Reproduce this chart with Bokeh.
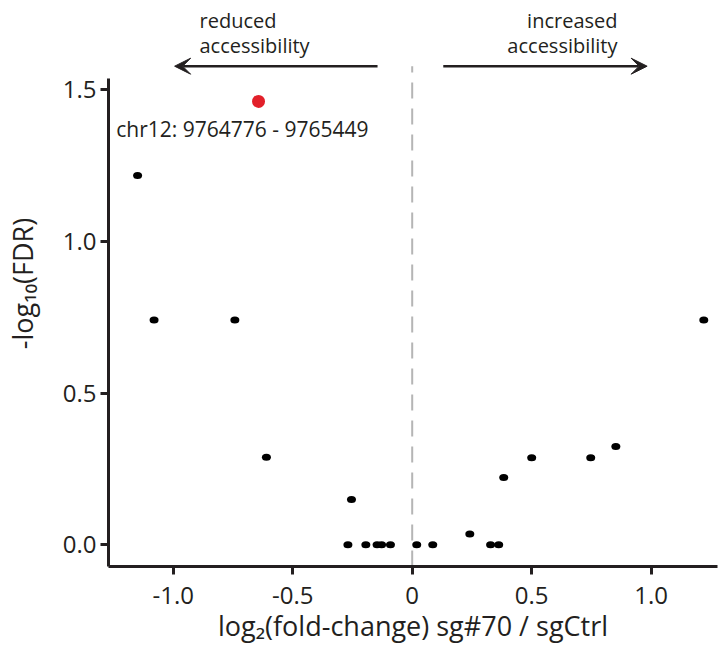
from bokeh.plotting import figure
from bokeh.models import ColumnDataSource, Arrow, VeeHead, FixedTicker, Range1d
from bokeh.core.properties import value
from bokeh.embed import file_html
from bokeh.resources import INLINE

# ---- data ----
lfc = [-1.149, -1.080, -0.742, -0.610, -0.254, -0.269, -0.194, -0.147, -0.128, -0.091,
       0.019, 0.086, 0.241, 0.328, 0.362, 0.383, 0.500, 0.747, 0.852, 1.220]
neglog_fdr = [1.218, 0.741, 0.741, 0.289, 0.149, 0.0, 0.0, 0.0, 0.0, 0.0,
              0.0, 0.0, 0.036, 0.0, 0.0, 0.222, 0.287, 0.287, 0.324, 0.741]
hit_lfc = [-0.643]
hit_fdr = [1.462]
hit_label = "chr12: 9764776 - 9765449"

x_ticks = [-1.0, -0.5, 0.0, 0.5, 1.0]
x_tick_labels = ["-1.0", "-0.5", "0", "0.5", "1.0"]
y_ticks = [0.0, 0.5, 1.0, 1.5]
y_tick_labels = ["0.0", "0.5", "1.0", "1.5"]

FONT = "Open Sans"
INK = "#231f20"

p = figure(width=725, height=656, output_backend="svg", toolbar_location=None,
           x_range=Range1d(-1.2707, 1.2774), y_range=Range1d(-0.0715, 1.7946),
           min_border_left=108, min_border_right=8, min_border_top=0, min_border_bottom=90)
p.outline_line_color = None
p.xgrid.visible = False
p.ygrid.visible = False
p.background_fill_color = "white"
p.border_fill_color = "white"

for ax in (p.xaxis[0], p.yaxis[0]):
    ax.axis_line_width = 3
    ax.axis_line_color = INK
    ax.major_tick_line_width = 3
    ax.major_tick_line_color = INK
    ax.major_tick_out = 8
    ax.major_tick_in = 0
    ax.minor_tick_line_color = None
    ax.major_label_text_font = FONT
    ax.major_label_text_font_size = "24px"
    ax.major_label_text_color = INK
    ax.axis_label_text_font = FONT
    ax.axis_label_text_font_size = "27px"
    ax.axis_label_text_font_style = "normal"
    ax.axis_label_text_color = INK

p.xaxis.ticker = FixedTicker(ticks=x_ticks)
p.xaxis.major_label_overrides = {t: l for t, l in zip(x_ticks, x_tick_labels)}
p.yaxis.ticker = FixedTicker(ticks=y_ticks)
p.yaxis.major_label_overrides = {t: l for t, l in zip(y_ticks, y_tick_labels)}
p.yaxis.bounds = (-0.0715, 1.538)
p.xaxis.axis_label = "log\u2082(fold-change) sg#70 / sgCtrl"
p.yaxis.axis_label = "-log\u2081\u2080(FDR)"
p.yaxis.major_label_standoff = 4
p.yaxis.axis_label_standoff = 19
p.xaxis.major_label_standoff = 12
p.xaxis.axis_label_standoff = 0

# dashed zero line
p.segment(x0=[0], y0=[-0.0715], x1=[0], y1=[1.578], line_color="#b5b5b5",
          line_width=2, line_dash="16 10")

# points
src = ColumnDataSource(dict(x=lfc, y=neglog_fdr))
p.ellipse(x="x", y="y", width=9, height=7, width_units="screen", height_units="screen",
          source=src, fill_color="black", line_color=None)
p.scatter(x=hit_lfc, y=hit_fdr, size=13, fill_color="#e2202a", line_color=None)

# hit label
p.text(x=[-1.238], y=[1.370], text=[hit_label], text_font=value(FONT),
       text_font_size="21px", text_color=INK, text_align="left", text_baseline="alphabetic")

# direction annotations
p.text(x=[-0.890, -0.890], y=[1.729, 1.647], text=["reduced", "accessibility"],
       text_font=value(FONT), text_font_size="20px", text_color=INK,
       text_align="left", text_baseline="alphabetic")
p.text(x=[0.859, 0.859], y=[1.729, 1.647], text=["increased", "accessibility"],
       text_font=value(FONT), text_font_size="20px", text_color=INK,
       text_align="right", text_baseline="alphabetic")

p.add_layout(Arrow(end=VeeHead(size=16, fill_color=INK, line_color=INK),
                   x_start=-0.145, y_start=1.578, x_end=-0.994, y_end=1.578,
                   line_width=2.5, line_color=INK))
p.add_layout(Arrow(end=VeeHead(size=16, fill_color=INK, line_color=INK),
                   x_start=0.130, y_start=1.578, x_end=0.983, y_end=1.578,
                   line_width=2.5, line_color=INK))

open("out.html", "w").write(file_html(p, INLINE))
